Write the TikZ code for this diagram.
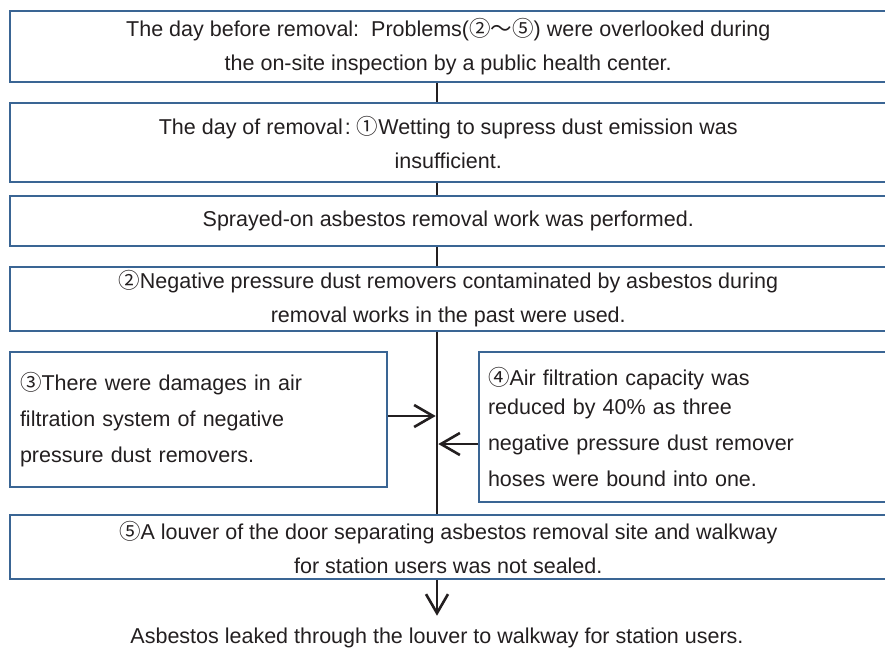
\documentclass[tikz,border=0pt]{standalone}
\usepackage{fontspec}
\setmainfont{Liberation Sans}
\newfontfamily\jpfont{Noto Sans CJK JP}
\usepackage{xcolor}
\usepackage{tikz}
\usetikzlibrary{arrows.meta}
\definecolor{mBoxBlue}{HTML}{3A6594}
\definecolor{mInk}{HTML}{231F20}
\newcommand{\cnum}[1]{{\jpfont #1}}
\tikzset{
  flowbox/.style={draw=mBoxBlue, line width=1.6pt, minimum width=876.5pt, inner sep=0pt, align=center, text=mInk, font=\fontsize{21.5}{34}\selectfont},
  sidebox/.style={draw=mBoxBlue, line width=1.6pt, inner sep=0pt, align=left, text=mInk, font=\fontsize{21.5}{36}\selectfont},
  spineline/.style={draw=mInk, line width=2.6pt},
  barb/.style={spineline, -{Straight Barb[length=19pt,width=22pt]}}
}

\begin{document}
\begin{tikzpicture}[x=1pt,y=-1pt]
\useasboundingbox (0,0) rectangle (885,649);
\coordinate (spine) at (437,0);
\node[flowbox, minimum height=71pt] (before) at (448.25,46.5) {The day before removal:\ \ Problems(\cnum{②〜⑤}) were overlooked during\\the on-site inspection by a public health center.};
\node[flowbox, minimum height=79pt] (dayof) at (448.25,142.5) {The day of removal\kern2pt:\kern6pt\cnum{①}Wetting to supress dust emission was\\insufficient.};
\node[flowbox, minimum height=50pt] (sprayed) at (448.25,221) {Sprayed-on asbestos removal work was performed.};
\node[flowbox, minimum height=64pt] (p2) at (448.25,299) {\cnum{②}Negative pressure dust removers contaminated by asbestos during\\removal works in the past were used.};
\node[sidebox, minimum width=377pt, minimum height=135pt, text width=357pt] (p3) at (198.5,419.5) {\cnum{③}There were damages in air\\filtration system of negative\\pressure dust removers.};
\node[sidebox, minimum width=407.5pt, minimum height=150pt, text width=389.5pt] (p4) at (682.75,427) {\cnum{④}Air filtration capacity was\\[-7pt]reduced by 40\% as three\\negative pressure dust remover\\hoses were bound into one.};
\node[flowbox, minimum height=64pt] (p5) at (448.25,547) {\cnum{⑤}A louver of the door separating asbestos removal site and walkway\\for station users was not sealed.};
\node[anchor=base, text=mInk, font=\fontsize{21.5}{26}\selectfont, inner sep=0pt] (leak) at (437,643.5) {Asbestos leaked through the louver to walkway for station users.};
\draw[spineline] (before.south -| spine) -- (dayof.north -| spine);
\draw[spineline] (dayof.south -| spine) -- (sprayed.north -| spine);
\draw[spineline] (sprayed.south -| spine) -- (p2.north -| spine);
\draw[spineline] (p2.south -| spine) -- (p5.north -| spine);
\draw[barb, shorten >=1.3pt] ([yshift=3.5pt]p3.east) -- ([yshift=3.5pt]p3.east -| spine);
\draw[barb, shorten >=1.3pt] ([yshift=-17pt]p4.west) -- ([yshift=-17pt]p4.west -| spine);
\draw[barb, shorten >=12pt] (p5.south -| spine) -- (leak.north -| spine);
\end{tikzpicture}
\end{document}
